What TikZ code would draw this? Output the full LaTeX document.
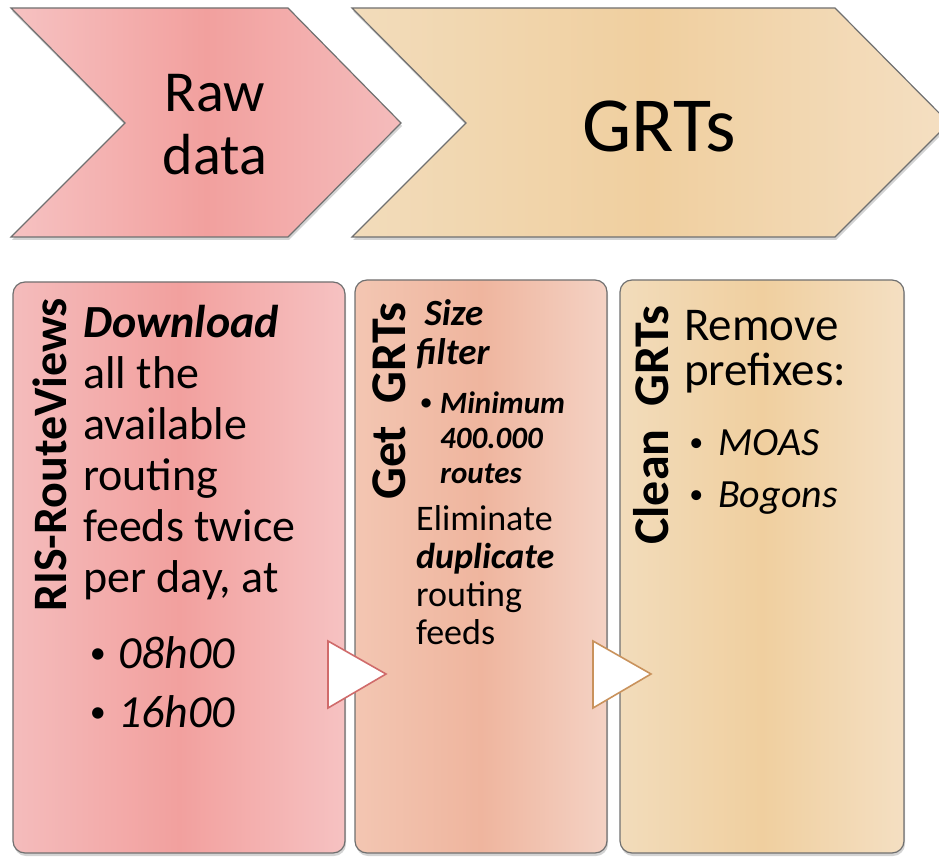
\documentclass[tikz,border=0pt]{standalone}
\usepackage{fontspec}
\setmainfont{Carlito}
\usepackage{xcolor}
\usepackage{tikz}
\usetikzlibrary{shadows}

\definecolor{edgegray}{HTML}{707070}
\definecolor{pinkA}{HTML}{F6C2C2}
\definecolor{pinkB}{HTML}{F2A09E}
\definecolor{pinkC}{HTML}{F4BCBC}
\definecolor{salA}{HTML}{F3C6B2}
\definecolor{salB}{HTML}{EFB59E}
\definecolor{salC}{HTML}{F4D2C4}
\definecolor{tanA}{HTML}{F2DCBB}
\definecolor{tanB}{HTML}{F0CF9F}
\definecolor{tanC}{HTML}{F4DFC2}
\definecolor{redline}{HTML}{D06B6B}
\definecolor{tanline}{HTML}{C9925C}

\tikzset{
  panel/.style={draw=edgegray, line width=1.2pt,
    drop shadow={opacity=.35, shadow xshift=1pt, shadow yshift=-3pt}},
  card/.style={panel, rounded corners=12pt},
  play/.style={fill=white, line width=1.6pt, line join=miter},
  txt/.style={anchor=base west, align=left, inner sep=0pt},
  side/.style={rotate=90, anchor=base west, inner sep=0pt},
}
\newcommand{\bul}[1]{\makebox[#1][l]{\hspace{0.08em}\raisebox{0.1em}{\scalebox{0.7}{\textbullet}}}}

\begin{document}
\begin{tikzpicture}[x=1pt,y=-1pt]
\clip (0,0) rectangle (939,858);
% chevrons
\path[panel, left color=pinkA, right color=pinkC, middle color=pinkB]
  (11,8) -- (288,8) -- (401,123) -- (288,237) -- (11,237) -- (125,123) -- cycle;
\path[panel, left color=tanA, right color=tanC, middle color=tanB]
  (352,8) -- (835,8) -- (949,123) -- (835,237) -- (352,237) -- (466,123) -- cycle;
% base anchor = baseline of the last line
\node[align=center, anchor=base, inner sep=0pt, font={\fontsize{58}{63}\selectfont}] (raw) at (215,175) {Raw\\data};
\node[anchor=base, inner sep=0pt, font={\fontsize{78}{80}\selectfont}] (grts) at (659,152) {GRTs};

% cards
\path[card, left color=pinkC, right color=pinkA, middle color=pinkB] (13,282) rectangle (345,853);
\path[card, left color=salA, right color=salC, middle color=salB] (355,280) rectangle (607,853);
\path[card, left color=tanA, right color=tanC, middle color=tanB] (620,280) rectangle (904,853);

% play marks
\draw[play, draw=redline] (328,641) -- (386,674) -- (328,708) -- cycle;
\draw[play, draw=tanline] (593,641) -- (651,674) -- (593,708) -- cycle;

% first card
\node[side, font={\fontsize{48}{50}\selectfont\bfseries}] (ris) at (66,612) {RIS-RouteViews};
\node[txt, font={\fontsize{46}{51}\selectfont}] (dl) at (83,592)
  {\textbf{\textit{Download}}\\all the\\available\\routing\\feeds twice\\per day, at};
\node[txt, font={\fontsize{46}{59}\selectfont}] (hours) at (86,727)
  {\bul{32pt}\textit{08h00}\\\bul{32pt}\textit{16h00}};

% second card
\node[side, font={\fontsize{50}{52}\selectfont\bfseries}] (get) at (405,500) {Get\ \ GRTs};
\node[txt, font={\fontsize{37}{39}\selectfont\bfseries\itshape}] (size) at (416,364) {\ Size\\filter};
\node[txt, font={\fontsize{31}{35}\selectfont\bfseries\itshape}] (minr) at (418,483)
  {\bul{22pt}Minimum\\\hspace*{22pt}400.000\\\hspace*{22pt}routes};
\node[txt, font={\fontsize{36}{38}\selectfont}] (elim) at (416,644)
  {Eliminate\\\textbf{\textit{duplicate}}\\routing\\feeds};

% third card
\node[side, font={\fontsize{50}{52}\selectfont\bfseries}] (clean) at (668,545) {Clean\ \ GRTs};
\node[txt, font={\fontsize{47}{45}\selectfont}] (rem) at (684,385) {Remove\\prefixes:};
\node[txt, font={\fontsize{40}{52}\selectfont}] (pref) at (686,507)
  {\bul{32pt}\textit{MOAS}\\\bul{32pt}\textit{Bogons}};
\end{tikzpicture}
\end{document}
